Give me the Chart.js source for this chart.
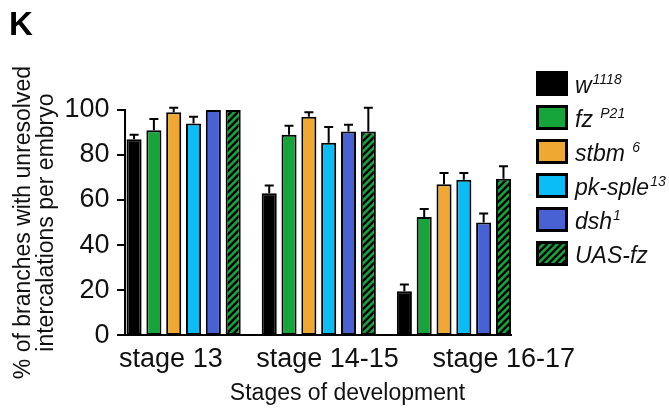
<!DOCTYPE html>
<html>
<head>
<meta charset="utf-8">
<style>
  html, body { margin: 0; padding: 0; background: #fff; }
</style>
<script src="https://cdn.jsdelivr.net/npm/chart.js@4/dist/chart.umd.min.js"></script>
</head>
<body>
<canvas id="chart" width="669" height="409"></canvas>
<script>
// data (panel K)
const stages = ['stage 13', 'stage 14-15', 'stage 16-17'];
const genotypes = ['w', 'fz ', 'stbm ', 'pk-sple', 'dsh', 'UAS-fz'];
const alleles = ['1118', 'P21', '6', '13', '1', ''];

const w1118 = [87, 63, 19.5];
const fzP21 = [91, 89, 52.5];
const stbm6 = [99, 97, 67];
const pkSple13 = [94, 85.5, 69];
const dsh1 = [100, 90.5, 50];
const uasFz = [100, 90.5, 69.5];

// upper error bars (SEM)
const errW = [2, 3.5, 3];
const errFz = [5, 4, 3.5];
const errStbm = [2, 2, 5];
const errPk = [3, 7, 3];
const errDsh = [0, 3, 4];
const errUas = [0, 10.5, 5.5];

const yTicks = [0, 20, 40, 60, 80, 100];
const yTitle = ['% of branches with unresolved', 'intercalations per embryo'];
const xTitle = 'Stages of development';

const FONT = '"Liberation Sans", Arial, Helvetica, sans-serif';
const INK = '#111';

// hatch pattern for UAS-fz
function hatch(){
  const c = document.createElement('canvas');
  c.width = 7; c.height = 7;
  const g = c.getContext('2d');
  g.fillStyle = '#16a53a';
  g.fillRect(0, 0, 7, 7);
  g.strokeStyle = '#000';
  g.lineWidth = 2.4;
  g.beginPath();
  g.moveTo(-1, 8); g.lineTo(8, -1);
  g.moveTo(-4, 4); g.lineTo(4, -4);
  g.moveTo(3, 11); g.lineTo(11, 3);
  g.stroke();
  return g.createPattern(c, 'repeat');
}
const hatchFill = hatch();

const colors = ['#000000', '#16a53a', '#efa832', '#0bbdf7', '#4862d3', hatchFill];
const series = [w1118, fzP21, stbm6, pkSple13, dsh1, uasFz];
const errors = [errW, errFz, errStbm, errPk, errDsh, errUas];

const datasets = series.map((d, i) => ({
  label: genotypes[i].trim() + alleles[i],
  data: d,
  backgroundColor: colors[i],
  borderColor: '#000',
  borderWidth: 2,
  borderSkipped: false,
  xAxisID: 'x',
  categoryPercentage: 0.88,
  barPercentage: 0.76
}));

// axes lines, tick marks, error bars, legend, panel letter
const extras = {
  id: 'extras',
  afterDatasetsDraw(chart){
    const ctx = chart.ctx;
    const y = chart.scales.y;
    const first = chart.getDatasetMeta(0).data[0];
    const last = chart.getDatasetMeta(series.length - 1).data[stages.length - 1];
    const axisX = first.x - first.width / 2 - 1.5;
    const axisEnd = last.x + last.width / 2 + 1;
    const y0 = y.getPixelForValue(0);

    ctx.save();
    ctx.strokeStyle = '#000';
    ctx.lineWidth = 2;
    ctx.lineCap = 'butt';

    // error bars (upper only)
    series.forEach((d, i) => {
      chart.getDatasetMeta(i).data.forEach((bar, j) => {
        const e = errors[i][j];
        if (!e) return;
        const top = y.getPixelForValue(d[j] + e);
        ctx.beginPath();
        ctx.moveTo(bar.x, bar.y);
        ctx.lineTo(bar.x, top);
        ctx.moveTo(bar.x - 4.5, top);
        ctx.lineTo(bar.x + 4.5, top);
        ctx.stroke();
      });
    });

    // y axis + ticks
    ctx.beginPath();
    ctx.moveTo(axisX, y.getPixelForValue(100) - 1);
    ctx.lineTo(axisX, y0 + 1);
    yTicks.forEach(t => {
      const p = y.getPixelForValue(t);
      ctx.moveTo(axisX - 8, p);
      ctx.lineTo(axisX, p);
    });
    // x axis
    ctx.moveTo(axisX - 1, y0);
    ctx.lineTo(axisEnd, y0);
    ctx.stroke();

    // panel letter
    ctx.fillStyle = '#000';
    ctx.font = 'bold 33px ' + FONT;
    ctx.textBaseline = 'alphabetic';
    ctx.textAlign = 'left';
    ctx.fillText('K', 9, 35);

    // x axis title
    ctx.fillStyle = INK;
    ctx.font = '23px ' + FONT;
    ctx.textAlign = 'center';
    ctx.fillText(xTitle, 347.5, 400);

    // legend
    ctx.textAlign = 'left';
    genotypes.forEach((g, i) => {
      const bx = 536, by = 71 + i * 34;
      ctx.fillStyle = colors[i];
      ctx.fillRect(bx, by, 32, 25);
      ctx.lineWidth = 3;
      ctx.strokeStyle = '#000';
      ctx.strokeRect(bx + 1.5, by + 1.5, 29, 22);
      ctx.fillStyle = INK;
      ctx.font = 'italic 23px ' + FONT;
      ctx.fillText(g, 575, by + 22);
      const w = ctx.measureText(g).width;
      if (alleles[i]) {
        ctx.font = 'italic 14px ' + FONT;
        ctx.fillText(alleles[i], 575 + w + 1, by + 13);
      }
    });
    ctx.restore();
  }
};

new Chart(document.getElementById('chart'), {
  type: 'bar',
  data: { labels: stages, datasets: datasets },
  options: {
    responsive: false,
    animation: false,
    devicePixelRatio: 1,
    layout: { padding: { left: 12, right: 147.5, top: 110, bottom: 25.5 } },
    plugins: { legend: { display: false }, tooltip: { enabled: false } },
    scales: {
      x: { type: 'category', display: false },
      // label axis: stage names are set right-aligned in the figure
      xl: {
        type: 'linear',
        position: 'bottom',
        bounds: 'data',
        offset: false,
        min: -0.6051,
        max: 1.696,
        afterBuildTicks: s => { s.ticks = stages.map((_, i) => ({ value: i })); },
        grid: { display: false, drawTicks: false },
        border: { display: false },
        ticks: {
          autoSkip: false,
          maxRotation: 0,
          align: 'end',
          padding: 8,
          color: INK,
          font: { family: FONT, size: 27 },
          callback: v => stages[v]
        }
      },
      y: {
        min: 0,
        max: 100,
        afterBuildTicks: s => { s.ticks = yTicks.map(v => ({ value: v })); },
        grid: { display: false, drawTicks: false },
        border: { display: false },
        ticks: { padding: 6.5, color: INK, font: { family: FONT, size: 27 } },
        title: {
          display: true,
          text: yTitle,
          color: INK,
          font: { family: FONT, size: 23, lineHeight: 1.0 },
          padding: { top: 0, bottom: 0 }
        }
      }
    }
  },
  plugins: [extras]
});
</script>
</body>
</html>
